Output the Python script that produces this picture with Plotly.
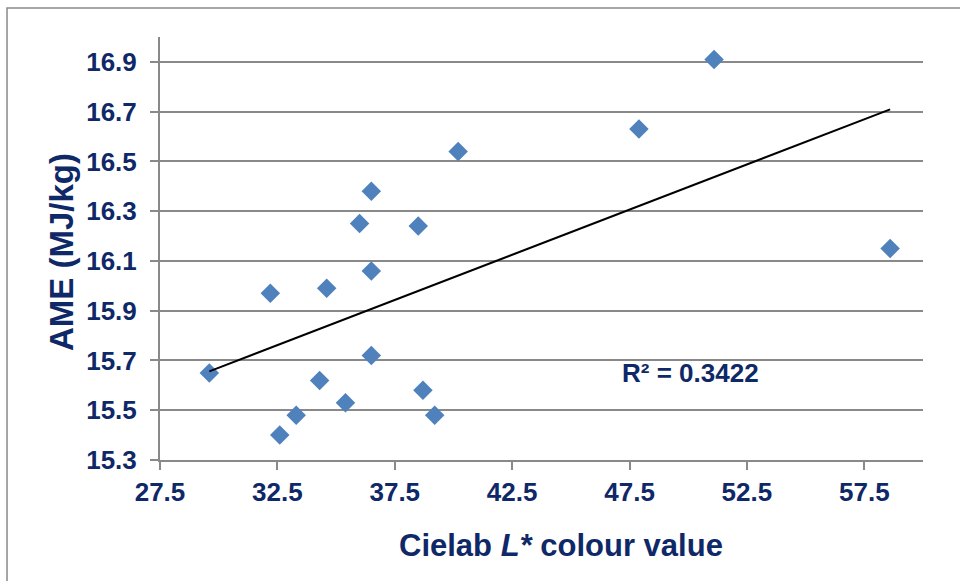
import numpy as np
import plotly.graph_objects as go

# Data
cielab_L = [29.6, 32.2, 32.6, 33.3, 34.3, 34.6, 35.4, 36.0, 36.5, 36.5, 36.5,
            38.5, 38.7, 39.2, 40.2, 47.9, 51.1, 58.6]
ame = [15.65, 15.97, 15.40, 15.48, 15.62, 15.99, 15.53, 16.25, 16.38, 16.06, 15.72,
       16.24, 15.58, 15.48, 16.54, 16.63, 16.91, 16.15]
x_ticks = [27.5, 32.5, 37.5, 42.5, 47.5, 52.5, 57.5]
y_ticks = [15.3, 15.5, 15.7, 15.9, 16.1, 16.3, 16.5, 16.7, 16.9]
r2_label = "R² = 0.3422"
x_title = "Cielab <i>L*</i> colour value"
y_title = "AME (MJ/kg)"

navy = "#0F2867"
grid = "#898989"
font_family = "Liberation Sans, Arial, sans-serif"

slope, intercept = np.polyfit(cielab_L, ame, 1)
x_line = [min(cielab_L), max(cielab_L)]
y_line = [slope * v + intercept for v in x_line]

fig = go.Figure()
fig.add_trace(go.Scatter(
    x=cielab_L, y=ame, mode="markers",
    marker=dict(symbol="diamond", size=15, color="#4F81BD"),
    showlegend=False,
))
fig.add_trace(go.Scatter(
    x=x_line, y=y_line, mode="lines",
    line=dict(color="black", width=2),
    showlegend=False,
))

fig.add_annotation(
    x=50.1, y=15.65, xref="x", yref="y", text=r2_label, showarrow=False,
    font=dict(family=font_family, size=26, color=navy, weight="bold"),
)
fig.add_annotation(
    x=0.5256, y=-0.2033, xref="paper", yref="paper", text=x_title, showarrow=False,
    xanchor="center", yanchor="middle",
    font=dict(family=font_family, size=31, color=navy, weight="bold"),
)
fig.add_annotation(
    x=-0.1297, y=0.4917, xref="paper", yref="paper", text=y_title, showarrow=False,
    xanchor="center", yanchor="middle", textangle=-90,
    font=dict(family=font_family, size=33, color=navy, weight="bold"),
)

fig.add_shape(
    type="rect", xref="paper", yref="paper",
    x0=-0.2005, y0=-0.5, x1=1.2, y1=1.0686,
    line=dict(color=grid, width=1.5), fillcolor="rgba(0,0,0,0)", layer="below",
)

fig.update_layout(
    width=960, height=581,
    margin=dict(l=160, r=37, t=37, b=121),
    paper_bgcolor="white", plot_bgcolor="white",
    font=dict(family=font_family, color=navy),
    xaxis=dict(
        range=[27.5, 60.0], tickvals=x_ticks, ticktext=[f"{v:.1f}" for v in x_ticks],
        showgrid=False, zeroline=False,
        showline=True, linecolor=grid, linewidth=2,
        ticks="outside", ticklen=8, tickwidth=2, tickcolor=grid,
        tickfont=dict(size=26, color=navy, weight="bold"),
        ticklabelstandoff=0,
    ),
    yaxis=dict(
        range=[15.3, 17.0], tickvals=y_ticks, ticktext=[f"{v:.1f}" for v in y_ticks],
        showgrid=True, gridcolor=grid, gridwidth=2, zeroline=False,
        showline=True, linecolor=grid, linewidth=2,
        ticks="outside", ticklen=8, tickwidth=2, tickcolor=grid,
        tickfont=dict(size=26, color=navy, weight="bold"),
        ticklabelstandoff=8,
    ),
)

fig.write_html("out.html")
